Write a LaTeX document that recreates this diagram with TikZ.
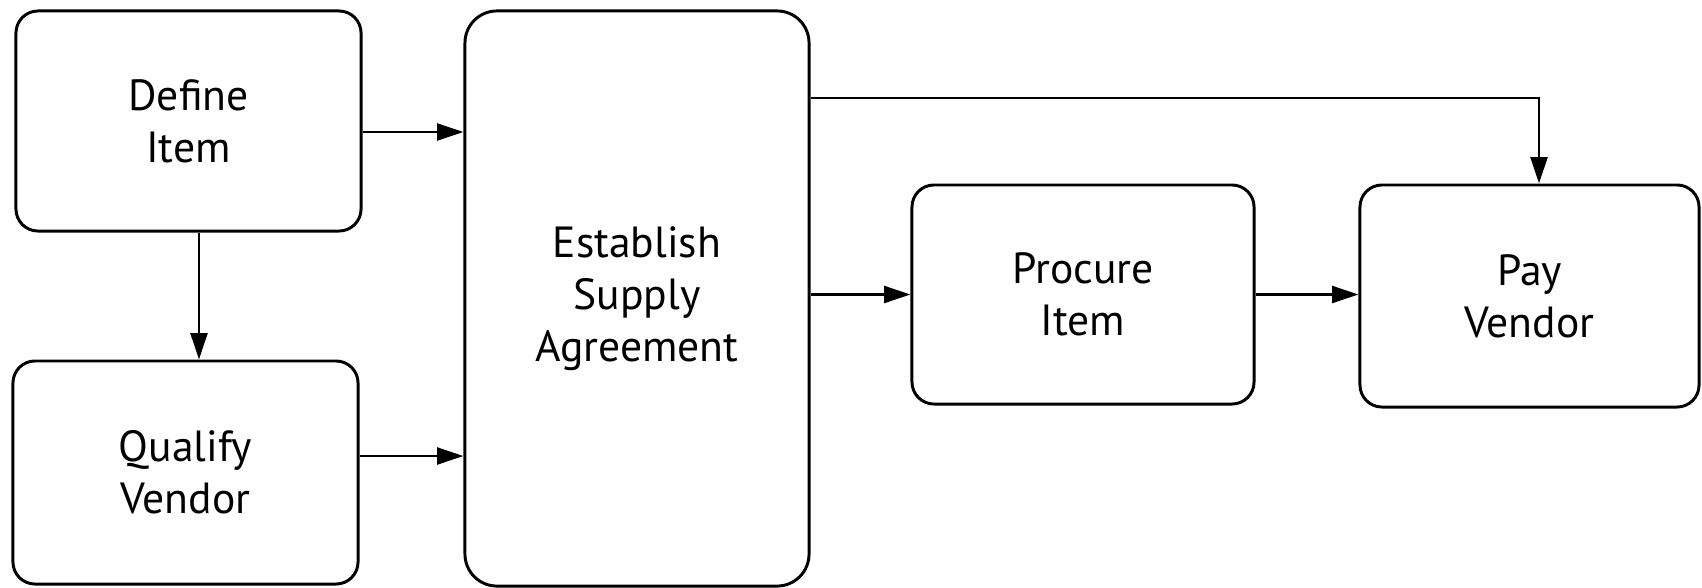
\documentclass[tikz,border=0pt]{standalone}
\usepackage{fontspec}
\setmainfont{PT Sans}
\usetikzlibrary{arrows.meta}

\begin{document}
\begin{tikzpicture}[x=0.025cm,y=-0.025cm,
    box/.style={draw,line width=2.1pt,rounded corners=0.55cm,inner sep=0pt,align=center,
        font=\fontsize{31}{37}\selectfont},
    flow/.style={line width=2.1pt,-{Triangle[length=0.66cm,width=0.42cm]}}]
    \useasboundingbox (0,0) rectangle (1702,587);

    \node[box,minimum width=8.625cm,minimum height=5.5cm](define)at(188.5,121){Define\\Item};
    \node[box,minimum width=8.625cm,minimum height=5.575cm](qualify)at(185.5,472.5){Qualify\\Vendor};
    \node[box,rounded corners=0.8cm,minimum width=8.6cm,minimum height=14.375cm](establish)at(637,298.5){Establish\\Supply\\Agreement};
    \node[box,minimum width=8.55cm,minimum height=5.475cm](procure)at(1083,294.5){Procure\\Item};
    \node[box,minimum width=8.475cm,minimum height=5.55cm](pay)at(1529.5,296){Pay\\Vendor};

    \draw[flow](define.east |- 0,132)--(establish.west |- 0,132);
    \draw[flow](qualify.east |- 0,456)--(establish.west |- 0,456);
    \draw[flow](define.south -| 199,0)--(qualify.north -| 199,0);
    \draw[flow](establish.east |- procure.west)--(procure.west);
    \draw[flow](procure.east)--(pay.west |- procure.east);
    \draw[flow](establish.east |- 0,98)-|(pay.north -| 1539,0);
\end{tikzpicture}
\end{document}
